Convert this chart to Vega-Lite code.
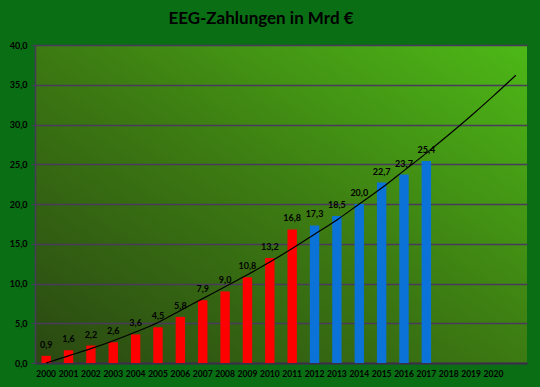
{
  "$schema": "https://vega.github.io/schema/vega-lite/v6.json",
  "width": 492,
  "height": 318,
  "autosize": "none",
  "padding": {"left": 35, "top": 45, "right": 13, "bottom": 24},
  "background": "#0a6e14",
  "title": {
    "text": "EEG-Zahlungen in Mrd €",
    "font": "Lato",
    "fontSize": 17,
    "fontWeight": "bold",
    "color": "#000000",
    "anchor": "middle",
    "dx": -20,
    "offset": 13
  },
  "config": {
    "locale": {"number": {"decimal": ",", "thousands": ".", "grouping": [3], "currency": ["", " €"]}},
    "axisY": {
      "title": null,
      "format": ".1f",
      "gridColor": "#4a3a5c",
      "gridWidth": 1.5,
      "gridOpacity": 1,
      "domainColor": "#4a3a5c",
      "domainWidth": 1.5,
      "tickColor": "#4a3a5c",
      "tickSize": 4,
      "labelPadding": 4,
      "labelFont": "Lato",
      "labelFontWeight": "bold",
      "labelFontSize": 9,
      "labelColor": "#000000",
      "labelOverlap": false
    },
    "view": {
      "stroke": null,
      "fill": {
        "gradient": "linear",
        "x1": 0, "y1": 1, "x2": 1, "y2": 0,
        "stops": [
          {"offset": 0, "color": "#2a4812"},
          {"offset": 0.5, "color": "#3c7a12"},
          {"offset": 1, "color": "#4db817"}
        ]
      }
    }
  },
  "datasets": {
    "bars": [
      {"year": "2000", "value": 0.9, "phase": "alt"},
      {"year": "2001", "value": 1.6, "phase": "alt"},
      {"year": "2002", "value": 2.2, "phase": "alt"},
      {"year": "2003", "value": 2.6, "phase": "alt"},
      {"year": "2004", "value": 3.6, "phase": "alt"},
      {"year": "2005", "value": 4.5, "phase": "alt"},
      {"year": "2006", "value": 5.8, "phase": "alt"},
      {"year": "2007", "value": 7.9, "phase": "alt"},
      {"year": "2008", "value": 9.0, "phase": "alt"},
      {"year": "2009", "value": 10.8, "phase": "alt"},
      {"year": "2010", "value": 13.2, "phase": "alt"},
      {"year": "2011", "value": 16.8, "phase": "alt"},
      {"year": "2012", "value": 17.3, "phase": "neu"},
      {"year": "2013", "value": 18.5, "phase": "neu"},
      {"year": "2014", "value": 20.0, "phase": "neu"},
      {"year": "2015", "value": 22.7, "phase": "neu"},
      {"year": "2016", "value": 23.7, "phase": "neu"},
      {"year": "2017", "value": 25.4, "phase": "neu"}
    ],
    "trend": [
      {"year": "2000", "trend": 0.0},
      {"year": "2001", "trend": 0.9},
      {"year": "2002", "trend": 1.8},
      {"year": "2003", "trend": 2.8},
      {"year": "2004", "trend": 3.9},
      {"year": "2005", "trend": 5.1},
      {"year": "2006", "trend": 6.6},
      {"year": "2007", "trend": 8.1},
      {"year": "2008", "trend": 9.6},
      {"year": "2009", "trend": 11.1},
      {"year": "2010", "trend": 12.7},
      {"year": "2011", "trend": 14.4},
      {"year": "2012", "trend": 16.2},
      {"year": "2013", "trend": 18.0},
      {"year": "2014", "trend": 20.0},
      {"year": "2015", "trend": 22.0},
      {"year": "2016", "trend": 24.2},
      {"year": "2017", "trend": 26.4},
      {"year": "2018", "trend": 28.7},
      {"year": "2019", "trend": 31.1},
      {"year": "2020", "trend": 33.6},
      {"year": "2021", "trend": 36.2}
    ]
  },
  "layer": [
    {
      "data": {"name": "bars"},
      "mark": {"type": "bar"},
      "encoding": {
        "x": {
          "field": "year",
          "type": "ordinal",
          "scale": {
            "domain": ["2000","2001","2002","2003","2004","2005","2006","2007","2008","2009","2010","2011","2012","2013","2014","2015","2016","2017","2018","2019","2020","2021"],
            "paddingInner": 0.58,
            "paddingOuter": 0.29
          },
          "axis": {
            "title": null,
            "labelAngle": 0,
            "labelExpr": "datum.value == '2021' ? '' : datum.value",
            "tickSize": 0,
            "domainColor": "#3b2f48",
            "domainWidth": 2,
            "labelFont": "Lato",
            "labelFontWeight": "bold",
            "labelFontSize": 8.5,
            "labelColor": "#000000",
            "labelPadding": 6
          }
        },
        "y": {
          "field": "value",
          "type": "quantitative",
          "scale": {"domain": [0, 40]},
          "axis": {"values": [0, 5, 10, 15, 20, 25, 30, 35, 40]}
        },
        "color": {
          "field": "phase",
          "type": "nominal",
          "scale": {"domain": ["alt", "neu"], "range": ["#ff0000", "#0b72d8"]},
          "legend": null
        }
      }
    },
    {
      "data": {"name": "bars"},
      "mark": {"type": "text", "font": "Lato", "fontWeight": "bold", "fontSize": 9, "color": "#000000", "baseline": "middle", "dy": -11},
      "encoding": {
        "x": {"field": "year", "type": "ordinal"},
        "y": {"field": "value", "type": "quantitative", "axis": {"values": [0, 5, 10, 15, 20, 25, 30, 35, 40]}},
        "text": {"field": "value", "type": "quantitative", "format": ".1f"}
      }
    },
    {
      "data": {"name": "trend"},
      "mark": {"type": "line", "color": "#000000", "strokeWidth": 1.2, "interpolate": "monotone"},
      "encoding": {
        "x": {"field": "year", "type": "ordinal"},
        "y": {"field": "trend", "type": "quantitative", "axis": {"values": [0, 5, 10, 15, 20, 25, 30, 35, 40]}}
      }
    }
  ]
}
